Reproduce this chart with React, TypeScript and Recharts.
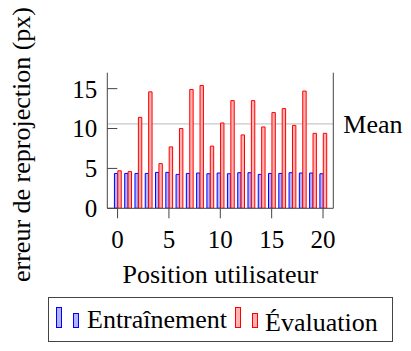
import { Bar, BarChart, ReferenceLine, XAxis, YAxis } from "recharts";

const positions = [0, 1, 2, 3, 4, 5, 6, 7, 8, 9, 10, 11, 12, 13, 14, 15, 16, 17, 18, 19, 20];
const trainingError = [
  4.37, 4.37, 4.37, 4.37, 4.5, 4.5, 4.25, 4.37, 4.42, 4.33, 4.42, 4.33, 4.46, 4.46, 4.25, 4.37,
  4.37, 4.46, 4.42, 4.42, 4.33,
];
const evaluationError = [
  4.7, 4.6, 11.4, 14.6, 5.6, 7.7, 10.0, 14.9, 15.4, 7.8, 10.7, 13.5, 9.2, 13.5, 10.2, 12.0, 12.5,
  10.4, 14.7, 9.4, 9.4,
];
const xTicks = [0, 5, 10, 15, 20];
const yTicks = [0, 5, 10, 15];

const FONT = '"Liberation Serif", "Times New Roman", serif';
const AXIS = "#444";

const data = positions.map((pos, i) => ({
  pos,
  train: trainingError[i],
  evaluation: evaluationError[i],
}));

const meanEvaluation = evaluationError.reduce((s, v) => s + v, 0) / evaluationError.length;

function XTick(props: any) {
  return (
    <text x={props.x} y={props.y} dy="0.71em" textAnchor="middle" fontSize={25} fontFamily={FONT} fill="#000">
      {props.payload.value}
    </text>
  );
}

function YTick(props: any) {
  return (
    <text x={props.x} y={props.y} dy="0.355em" textAnchor="end" fontSize={25} fontFamily={FONT} fill="#000">
      {props.payload.value}
    </text>
  );
}

function YLabel(props: any) {
  const vb = props.viewBox ?? { x: 0, y: 73, width: 107, height: 136 };
  const cx = vb.x + 30;
  const cy = vb.y + vb.height / 2 + 4;
  return (
    <text
      x={cx}
      y={cy}
      transform={`rotate(-90, ${cx}, ${cy})`}
      textAnchor="middle"
      fontSize={26}
      fontFamily={FONT}
      fill="#000"
    >
      erreur de reprojection (px)
    </text>
  );
}

function LegendBox() {
  return (
    <svg
      width={411}
      height={351}
      style={{ position: "absolute", left: 0, top: 0, pointerEvents: "none" }}
    >
      <rect x={48.5} y={297.5} width={344} height={44} fill="#fff" stroke={AXIS} />
      <rect x={56.5} y={307.5} width={5} height={20} fill="#b3b3ff" stroke="#0000ff" />
      <rect x={73.5} y={313.5} width={5} height={14} fill="#b3b3ff" stroke="#0000ff" />
      <text x={87} y={328} fontSize={26} fontFamily={FONT} fill="#000">
        Entraînement
      </text>
      <rect x={235.5} y={307.5} width={5} height={20} fill="#ffb3b3" stroke="#ff0000" />
      <rect x={252.5} y={313.5} width={5} height={14} fill="#ffb3b3" stroke="#ff0000" />
      <text x={265} y={331} fontSize={26} fontFamily={FONT} fill="#000">
        Évaluation
      </text>
    </svg>
  );
}

export default function App() {
  return (
    <div
      style={{
        position: "absolute",
        left: 0,
        top: 0,
        width: 411,
        height: 351,
        background: "#fff",
        fontFamily: FONT,
      }}
    >
      <BarChart
        width={411}
        height={351}
        data={data}
        margin={{ top: 72.7, right: 0, bottom: 60.7, left: 0 }}
        barGap={0}
        barSize={3.4}
      >
        <XAxis
          dataKey="pos"
          type="number"
          domain={[-1, 21]}
          ticks={xTicks}
          allowDataOverflow
          height={82}
          tickSize={10}
          tickMargin={12}
          stroke={AXIS}
          tick={(p: any) => <XTick {...p} />}
          label={{
            value: "Position utilisateur",
            position: "insideBottom",
            offset: 7,
            fill: "#000",
            fontSize: 26,
            fontFamily: FONT,
          }}
        />
        <XAxis
          xAxisId="top"
          orientation="top"
          type="number"
          domain={[-1, 21]}
          ticks={xTicks}
          allowDataOverflow
          height={0}
          tickSize={10}
          tick={false}
          stroke={AXIS}
        />
        <YAxis
          type="number"
          domain={[0, 17]}
          ticks={yTicks}
          allowDataOverflow
          width={107.3}
          tickSize={-10}
          tickMargin={20}
          stroke={AXIS}
          tick={(p: any) => <YTick {...p} />}
          label={(p: any) => <YLabel {...p} />}
        />
        <YAxis
          yAxisId="right"
          orientation="right"
          type="number"
          domain={[0, 17]}
          ticks={yTicks}
          allowDataOverflow
          width={77.7}
          tickSize={-10}
          tick={false}
          stroke={AXIS}
        />
        <ReferenceLine
          y={meanEvaluation}
          stroke="#c8c8c8"
          strokeWidth={1.2}
          zIndex={100}
          label={{
            value: "Mean",
            position: "right",
            offset: 10,
            fill: "#000",
            fontSize: 26,
            fontFamily: FONT,
          }}
        />
        <Bar dataKey="train" fill="#b3b3ff" stroke="#0000ff" strokeWidth={1} isAnimationActive={false} />
        <Bar dataKey="evaluation" fill="#ffb3b3" stroke="#ff0000" strokeWidth={1} isAnimationActive={false} />
      </BarChart>
      <LegendBox />
    </div>
  );
}
